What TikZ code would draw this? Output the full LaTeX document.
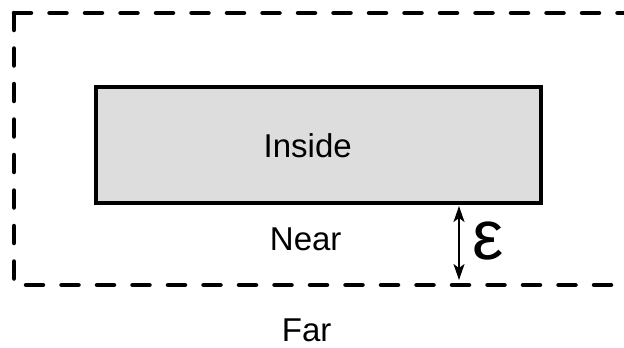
\documentclass[tikz,border=0pt]{standalone}
\usepackage{fontspec}
\setmainfont{Liberation Sans}
\usetikzlibrary{arrows.meta}
\definecolor{boxgray}{RGB}{221,221,221}
\tikzset{
  zone/.style={line width=4.5pt, line cap=round, dash pattern=on 17pt off 18.5pt},
  insidebox/.style={draw, line width=3.5pt, fill=boxgray, line join=miter, minimum width=445pt, minimum height=116pt, inner sep=0pt},
  lab/.style={font=\fontsize{33}{33}\selectfont, anchor=base, inner sep=0pt},
  gap/.style={line width=2pt, {Stealth[length=16pt,width=11pt,inset=4pt]}-{Stealth[length=16pt,width=11pt,inset=4pt]}}
}
\begin{document}
\begin{tikzpicture}[x=1pt,y=-1pt]
\useasboundingbox (0,0) rectangle (624,348);
\clip (0,0) rectangle (624,348);
\fill[white] (0,0) rectangle (624,348);
% dashed outer zone
\coordinate (tl) at (14,13);
\coordinate (bl) at (14,285);
\coordinate (br) at (700,285);
\coordinate (tr) at (700,13);
\draw[zone] (tl) -- (tr);
\draw[zone] (tl) -- (bl) -- (br);
% inside box
\node[insidebox] (inside) at (318.5,145) {};
\node[lab] (insidetxt) at (307.7,157) {Inside};
\node[lab] (near) at (305.7,250.7) {Near};
\node[lab] (far) at (306.7,341) {Far};
% epsilon gap
\coordinate (e1) at (459,206);
\coordinate (e2) at (459,280);
\draw[gap] (e1) -- (e2);
\node[font=\fontsize{70}{70}\selectfont, anchor=base, inner sep=0pt] (eps) at (488,259.5) {ε};
\end{tikzpicture}
\end{document}
